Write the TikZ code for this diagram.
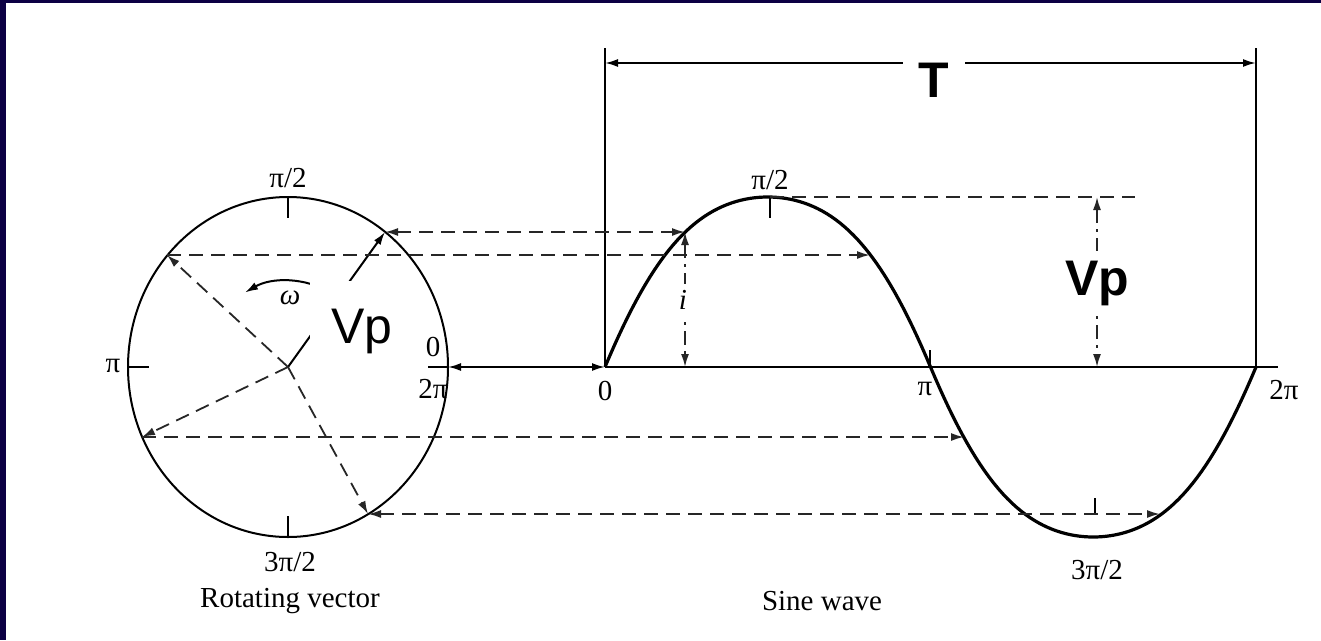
\documentclass[tikz,border=0pt]{standalone}
\usepackage{fontspec}
\setmainfont{Liberation Serif}
\newfontfamily\arialfont{Liberation Sans}
\usetikzlibrary{arrows.meta,calc}
\definecolor{framenavy}{RGB}{12,0,68}

\begin{document}
\begin{tikzpicture}[
  x=1pt, y=-1pt,
  >={Latex[length=13pt,width=8pt]},
  lbl/.style={font=\fontsize{29}{32}\selectfont, inner sep=1pt},
  ital/.style={font=\itshape\fontsize{29}{32}\selectfont, inner sep=1pt},
  bigsans/.style={font=\arialfont\fontsize{50}{56}\selectfont, inner sep=0pt},
  axisline/.style={draw=black, line width=2pt},
  waveline/.style={draw=black, line width=3.2pt},
  guide/.style={draw=black!85, line width=1.8pt, dash pattern=on 14pt off 8pt},
  dimline/.style={draw=black!85, line width=1.8pt, dash pattern=on 14pt off 6pt on 3pt off 6pt}
]
  \useasboundingbox (0,0) rectangle (1321,640);
  \fill[white] (0,0) rectangle (1321,640);
  % frame of the slide
  \fill[framenavy] (0,0) rectangle (6,640);
  \fill[framenavy] (0,0) rectangle (1321,3);

  % points of the rotating vector and of the sine wave
  \coordinate (c0) at (288,367);
  \coordinate (cR) at (448,367);
  \coordinate (cA) at (385,232);
  \coordinate (cB) at (167,255);
  \coordinate (cC) at (142,437);
  \coordinate (cD) at (368,514);
  \coordinate (s0) at (605,367);
  \coordinate (sA) at (685,232);
  \coordinate (sAb) at (685,367);
  \coordinate (sB) at (870,255);
  \coordinate (sC) at (964,437);
  \coordinate (sD) at (1160,514);
  \coordinate (sPk) at (770,197);
  \coordinate (sEnd) at (1256,367);
  \coordinate (axEnd) at (1278,367);
  \coordinate (tL) at (605,48);
  \coordinate (tR) at (1256,48);
  \coordinate (vpTop) at (1097,197);
  \coordinate (vpBot) at (1097,367);

  % rotating vector
  \draw[axisline] (c0) ellipse [x radius=160pt, y radius=170pt];
  \draw[axisline] (288,197) -- (288,218);
  \draw[axisline] (288,516) -- (288,537);
  \draw[axisline] (128,367) -- (149,367);
  \draw[axisline] (428,367) -- (cR);
  \draw[axisline, ->] (c0) -- (cA);
  \draw[guide, ->] (c0) -- (cB);
  \draw[guide, ->] (c0) -- (cC);
  \draw[guide, ->] (c0) -- (cD);
  \draw[axisline, ->] ([shift={(60:86pt)}]c0) arc[start angle=60, end angle=120, radius=86pt];
  \node[fill=white, inner sep=0pt, minimum width=94pt, minimum height=74pt] (vpmask) at (357,318) {};
  \node[bigsans, anchor=base] (vpc) at (362,343) {Vp};
  \node[ital] (omega) at (290,298) {ω};

  % sine wave
  \draw[waveline] plot[domain=0:360, samples=145]
    ({605+1.80833*\x}, {367-170*sin(\x)*(1+0.45*(1-abs(sin(\x))))});
  \draw[axisline, <->] (cR) -- (s0);
  \draw[axisline] (s0) -- (axEnd);
  \draw[axisline] (tL) -- (s0);
  \draw[axisline] (tR) -- (sEnd);
  \draw[axisline] (sPk) -- (770,218);
  \draw[axisline] (930,350) -- (930,367);
  \draw[axisline] (1095,498) -- (1095,515);

  % projections
  \draw[guide, <->] (cA) -- (sA);
  \draw[guide, ->] (cB) -- (sB);
  \draw[guide, ->] (cC) -- (sC);
  \draw[guide, <->] (cD) -- (sD);
  \draw[guide] (sPk) -- (1135,197);
  \draw[dimline, <->] (sA) -- (sAb);
  \node[ital, fill=white, inner ysep=6pt] (ilbl) at (683,300) {i};
  \draw[dimline, <->] (vpTop) -- (vpBot);
  \node[bigsans, font=\arialfont\bfseries\fontsize{50}{56}\selectfont, fill=white, inner xsep=2pt, inner ysep=10pt] (vpw) at (1097,283) {Vp};

  % period
  \draw[axisline, <->] (605,63) -- (1256,63);
  \node[bigsans, font=\arialfont\bfseries\fontsize{50}{56}\selectfont, fill=white, inner xsep=16pt, inner ysep=4pt] (per) at (934,80) {T};

  % labels
  \node[lbl] (cq1) at (288,178) {π/2};
  \node[lbl] (cq2) at (113,366) {π};
  \node[lbl] (cz) at (433,347) {0};
  \node[lbl] (c2pi) at (433,389) {2π};
  \node[lbl] (cq3) at (290,562) {3π/2};
  \node[lbl] (rv) at (290,601) {Rotating vector};
  \node[lbl] (sz) at (605,391) {0};
  \node[lbl] (sq1) at (770,180) {π/2};
  \node[lbl] (sq2) at (925,389) {π};
  \node[lbl] (s2pi) at (1284,390) {2π};
  \node[lbl] (sq3) at (1097,570) {3π/2};
  \node[lbl] (sw) at (822,601) {Sine wave};
\end{tikzpicture}
\end{document}
